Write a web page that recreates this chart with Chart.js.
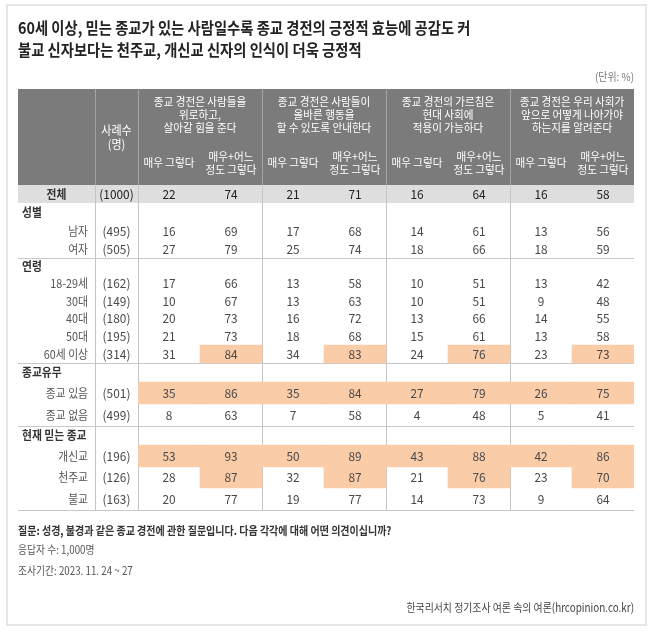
<!DOCTYPE html>
<html>
<head>
<meta charset="utf-8">
<script src="https://cdn.jsdelivr.net/npm/chart.js@4.4.0/dist/chart.umd.min.js"></script>
<style>
  html, body { margin: 0; background: #fff; }
</style>
</head>
<body>
<canvas id="surveyTable" width="654" height="632"></canvas>
<script>
const titleLines = [
    '60세 이상, 믿는 종교가 있는 사람일수록 종교 경전의 긍정적 효능에 공감도 커',
    '불교 신자보다는 천주교, 개신교 신자의 인식이 더욱 긍정적'
];
const questions = [
    '종교 경전은 사람들을\n위로하고,\n살아갈 힘을 준다',
    '종교 경전은 사람들이\n올바른 행동을\n할 수 있도록 안내한다',
    '종교 경전의 가르침은\n현대 사회에\n적용이 가능하다',
    '종교 경전은 우리 사회가\n앞으로 어떻게 나아가야\n하는지를 알려준다'
];
const answerCols = ['매우 그렇다', '매우+어느\n정도 그렇다'];
const colKeys = ['q1a', 'q1b', 'q2a', 'q2b', 'q3a', 'q3b', 'q4a', 'q4b'];

const rowLabels = ['전체', '성별', '남자', '여자', '연령', '18-29세', '30대', '40대', '50대', '60세 이상',
    '종교유무', '종교 있음', '종교 없음', '현재 믿는 종교', '개신교', '천주교', '불교'];
const groupRows = ['성별', '연령', '종교유무', '현재 믿는 종교'];
const sampleSizes = [1000, null, 495, 505, null, 162, 149, 180, 195, 314, null, 501, 499, null, 196, 126, 163];

const q1Very  = [22, null, 16, 27, null, 17, 10, 20, 21, 31, null, 35, 8, null, 53, 28, 20];
const q1Total = [74, null, 69, 79, null, 66, 67, 73, 73, 84, null, 86, 63, null, 93, 87, 77];
const q2Very  = [21, null, 17, 25, null, 13, 13, 16, 18, 34, null, 35, 7, null, 50, 32, 19];
const q2Total = [71, null, 68, 74, null, 58, 63, 72, 68, 83, null, 84, 58, null, 89, 87, 77];
const q3Very  = [16, null, 14, 18, null, 10, 10, 13, 15, 24, null, 27, 4, null, 43, 21, 14];
const q3Total = [64, null, 61, 66, null, 51, 51, 66, 61, 76, null, 79, 48, null, 88, 76, 73];
const q4Very  = [16, null, 13, 18, null, 13, 9, 14, 13, 23, null, 26, 5, null, 42, 23, 9];
const q4Total = [58, null, 56, 59, null, 42, 48, 55, 58, 73, null, 75, 41, null, 86, 70, 64];

// highlighted cells: row label -> column indexes
const highlightRows = ['60세 이상', '종교 있음', '개신교', '천주교'];
const highlightCols = [[1, 3, 5, 7], [0, 1, 2, 3, 4, 5, 6, 7], [0, 1, 2, 3, 4, 5, 6, 7], [1, 3, 5, 7]];

const footNotes = [
    '질문: 성경, 불경과 같은 종교 경전에 관한 질문입니다. 다음 각각에 대해 어떤 의견이십니까?',
    '응답자 수: 1,000명',
    '조사기간: 2023. 11. 24 ~ 27'
];
const sourceText = '한국리서치 정기조사 여론 속의 여론(hrcopinion.co.kr)';

// layout (row heights in table units)
const rowHeights = [18, 19, 18, 18, 16, 18, 18, 17, 18, 18, 19, 22, 22, 19, 22, 21, 22];
const rowTops = [];
rowHeights.reduce((acc, h) => { rowTops.push(acc); return acc + h; }, 0);
const tableHeight = rowHeights.reduce((a, b) => a + b, 0);

const seriesCols = [q1Very, q1Total, q2Very, q2Total, q3Very, q3Total, q4Very, q4Total];

const highlightData = [];
highlightRows.forEach((label, i) => {
    const r = rowLabels.indexOf(label);
    highlightCols[i].forEach(c => {
        highlightData.push({ x: colKeys[c], y: [rowTops[r], rowTops[r] + rowHeights[r]] });
    });
});

const KR = '"Noto Sans CJK KR", "Noto Sans", sans-serif';
const TBL_LEFT = 18, LABEL_RIGHT = 88, N_RIGHT = 95, HEADER_TOP = 89;

function txt(ctx, s, x, y, font, color, align, sx) {
    ctx.save();
    ctx.font = font;
    ctx.fillStyle = color;
    ctx.textBaseline = 'middle';
    ctx.textAlign = align || 'left';
    ctx.translate(x, y);
    ctx.scale(sx || 1, 1);
    ctx.fillText(s, 0, 0);
    ctx.restore();
}

function lines(ctx, s, x, yMid, lh, font, color, sx) {
    const parts = s.split('\n');
    const y0 = yMid - (parts.length - 1) * lh / 2;
    parts.forEach((p, i) => txt(ctx, p, x, y0 + i * lh, font, color, 'center', sx));
}

function vLine(ctx, x, y1, y2, color) {
    ctx.strokeStyle = color;
    ctx.lineWidth = 1;
    ctx.beginPath();
    ctx.moveTo(Math.round(x) + 0.5, y1);
    ctx.lineTo(Math.round(x) + 0.5, y2);
    ctx.stroke();
}

function hLine(ctx, y, x1, x2, color) {
    ctx.strokeStyle = color;
    ctx.lineWidth = 1;
    ctx.beginPath();
    ctx.moveTo(x1, Math.round(y) + 0.5);
    ctx.lineTo(x2, Math.round(y) + 0.5);
    ctx.stroke();
}

const tablePlugin = {
    id: 'tablePlugin',
    beforeDatasetsDraw(chart) {
        const { ctx, chartArea, scales } = chart;
        const xs = scales.x, ys = scales.y;
        const right = chartArea.right, left = chartArea.left;
        const top = ys.getPixelForValue(0), bottom = ys.getPixelForValue(tableHeight);
        const colPx = i => xs.getPixelForValue(i);
        const half = (colPx(1) - colPx(0)) / 2;

        // card frame
        ctx.save();
        ctx.strokeStyle = '#e6e6e6';
        ctx.lineWidth = 2;
        ctx.strokeRect(7, 5, 639, 620);
        ctx.restore();

        titleLines.forEach((t, i) => txt(ctx, t, TBL_LEFT, 28 + i * 22, 'bold 16px ' + KR, '#222', 'left', 0.895));
        txt(ctx, '(단위: %)', right, 77, '11px ' + KR, '#777', 'right', 0.9);

        // header
        ctx.fillStyle = '#7b7b7b';
        ctx.fillRect(TBL_LEFT, HEADER_TOP, right - TBL_LEFT, top - HEADER_TOP);
        const headSep = [N_RIGHT, left];
        for (let q = 1; q < 4; q++) headSep.push(colPx(q * 2) - half);
        headSep.forEach(x => vLine(ctx, x, HEADER_TOP, top, '#a3a3a3'));

        lines(ctx, '사례수\n(명)', (N_RIGHT + left) / 2, 137, 14, '12px ' + KR, '#fff', 0.92);
        questions.forEach((q, i) => {
            const cx = (colPx(i * 2) + colPx(i * 2 + 1)) / 2;
            lines(ctx, q, cx, 115, 13, '11.5px ' + KR, '#fff', 0.92);
            answerCols.forEach((a, j) => {
                lines(ctx, a, colPx(i * 2 + j), 163, 13, '11.5px ' + KR, '#fff', 0.92);
            });
        });

        // total row band
        ctx.fillStyle = '#dedede';
        ctx.fillRect(TBL_LEFT, top, right - TBL_LEFT, ys.getPixelForValue(rowHeights[0]) - top);

        // body vertical lines
        headSep.forEach(x => vLine(ctx, x, top, bottom, '#c4c4c4'));

        // group separators
        groupRows.slice(1).forEach(g => {
            const r = rowLabels.indexOf(g);
            hLine(ctx, ys.getPixelForValue(rowTops[r]), TBL_LEFT, right, '#c8c8c8');
        });
        hLine(ctx, bottom, TBL_LEFT, right, '#c8c8c8');

        // footnotes
        txt(ctx, footNotes[0], TBL_LEFT, 531, 'bold 11.5px ' + KR, '#333', 'left', 0.87);
        txt(ctx, footNotes[1], TBL_LEFT, 550, '11.5px ' + KR, '#555', 'left', 0.85);
        txt(ctx, footNotes[2], TBL_LEFT, 571, '11.5px ' + KR, '#555', 'left', 0.85);
        txt(ctx, sourceText, right, 608, '11.5px ' + KR, '#444', 'right', 0.86);
    },
    afterDatasetsDraw(chart) {
        const { ctx, chartArea, scales } = chart;
        const xs = scales.x, ys = scales.y;
        rowLabels.forEach((label, r) => {
            const y = ys.getPixelForValue(rowTops[r] + rowHeights[r] / 2);
            const isTotal = r === 0;
            const numFont = '12.5px ' + KR;
            const numColor = isTotal ? '#222' : '#4a4a4a';
            if (groupRows.includes(label)) {
                txt(ctx, label, TBL_LEFT + 4, y, 'bold 12px ' + KR, '#333', 'left', 0.9);
                return;
            }
            if (isTotal) {
                txt(ctx, label, (TBL_LEFT + N_RIGHT) / 2, y, 'bold 12px ' + KR, '#333', 'center', 0.9);
            } else {
                txt(ctx, label, LABEL_RIGHT, y, '12px ' + KR, '#555', 'right', 0.9);
            }
            txt(ctx, '(' + sampleSizes[r] + ')', (N_RIGHT + chartArea.left) / 2, y, numFont, numColor, 'center', 0.95);
            seriesCols.forEach((col, c) => {
                if (col[r] === null) return;
                txt(ctx, String(col[r]), xs.getPixelForValue(c), y, numFont, numColor, 'center', 0.95);
            });
        });
    }
};

new Chart(document.getElementById('surveyTable').getContext('2d'), {
    type: 'bar',
    data: {
        labels: colKeys,
        datasets: [{
            label: 'highlight',
            data: highlightData,
            backgroundColor: '#fbcca8',
            borderWidth: 0,
            barPercentage: 1,
            categoryPercentage: 1,
            grouped: false
        }]
    },
    options: {
        responsive: false,
        animation: false,
        layout: { padding: { left: 138, right: 20, top: 185, bottom: 122 } },
        scales: {
            x: { type: 'category', labels: colKeys, display: false, offset: true },
            y: { type: 'linear', reverse: true, min: 0, max: tableHeight, display: false }
        },
        plugins: { legend: { display: false }, tooltip: { enabled: false } }
    },
    plugins: [tablePlugin]
});
</script>
</body>
</html>
